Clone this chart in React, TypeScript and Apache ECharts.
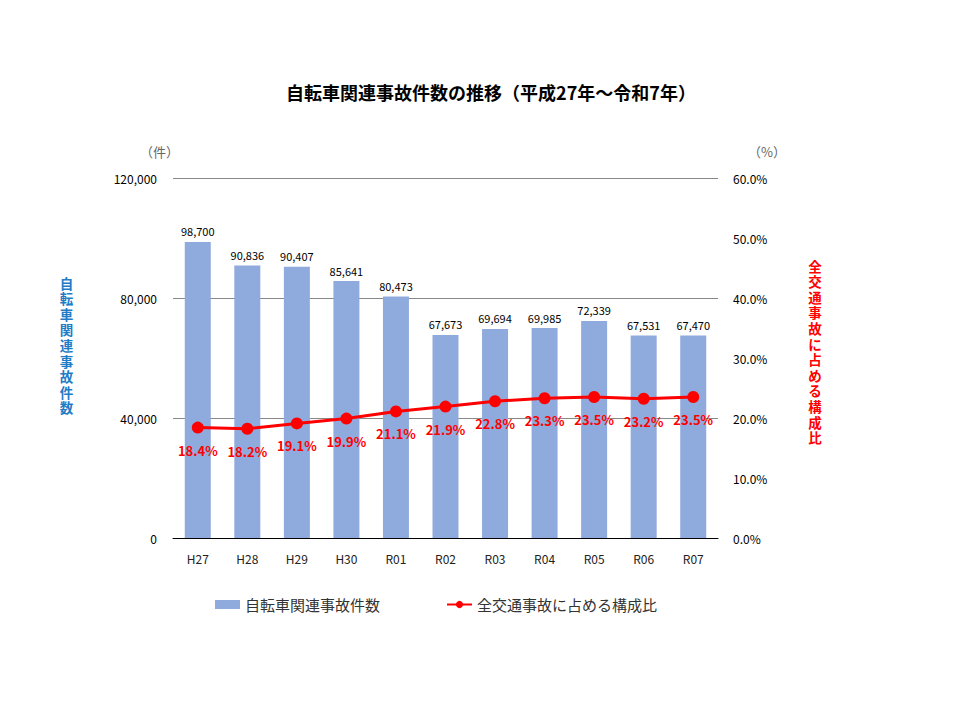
import React, { useEffect, useRef } from "react";
import * as echarts from "echarts";

const categories = ["H27", "H28", "H29", "H30", "R01", "R02", "R03", "R04", "R05", "R06", "R07"];
const accidentCounts = [98700, 90836, 90407, 85641, 80473, 67673, 69694, 69985, 72339, 67531, 67470];
const shareRatios = [18.4, 18.2, 19.1, 19.9, 21.1, 21.9, 22.8, 23.3, 23.5, 23.2, 23.5];
const leftAxisName = "自転車関連事故件数";
const rightAxisName = "全交通事故に占める構成比";

const FONT = "'Noto Sans CJK JP', 'Noto Sans', sans-serif";
const TIGHT_FONT = "'Liberation Sans', 'Noto Sans CJK JP', sans-serif";

function verticalText(text: string, cx: number, top: number, step: number, color: string) {
  return Array.from(text).map((ch, i) => ({
    type: "text",
    x: cx,
    y: top + i * step,
    style: {
      text: ch,
      fill: color,
      fontSize: 13.5,
      lineHeight: 14,
      fontWeight: "bold",
      fontFamily: TIGHT_FONT,
      align: "center",
      verticalAlign: "top",
    },
  }));
}

export default function App() {
  const ref = useRef<HTMLDivElement>(null);
  useEffect(() => {
    if (!ref.current) return;
    const chart = echarts.init(ref.current, null, { renderer: "svg" });
    chart.setOption({
      animation: false,
      backgroundColor: "#ffffff",
      textStyle: { fontFamily: FONT },
      title: {
        text: "自転車関連事故件数の推移（平成27年～令和7年）",
        left: 486,
        top: 78,
        textAlign: "center",
        textStyle: { fontSize: 18, fontWeight: "bold", color: "#000", fontFamily: FONT },
      },
      grid: { left: 173, right: 242, top: 178, bottom: 182 },
      legend: {
        top: 592,
        left: 210,
        itemGap: 66,
        itemWidth: 25,
        itemHeight: 9,
        textStyle: { fontSize: 15, color: "#333", fontFamily: FONT },
        data: [
          { name: "自転車関連事故件数", icon: "rect" },
          { name: "全交通事故に占める構成比" },
        ],
      },
      xAxis: {
        type: "category",
        data: categories,
        axisTick: { show: false },
        axisLine: { lineStyle: { color: "#000", width: 1 } },
        axisLabel: { color: "#222", fontSize: 12, margin: 14 },
      },
      yAxis: [
        {
          type: "value",
          min: 0,
          max: 120000,
          interval: 40000,
          axisLine: { show: false },
          axisTick: { show: false },
          splitLine: { lineStyle: { color: "#888", width: 1 } },
          axisLabel: {
            color: "#000",
            fontSize: 12,
            margin: 16,
            formatter: (v: number) => v.toLocaleString("en-US"),
          },
        },
        {
          type: "value",
          min: 0,
          max: 60,
          interval: 10,
          axisLine: { show: false },
          axisTick: { show: false },
          splitLine: { show: false },
          axisLabel: {
            color: "#000",
            fontSize: 12,
            margin: 15,
            formatter: (v: number) => v.toFixed(1) + "%",
          },
        },
      ],
      series: [
        {
          name: "自転車関連事故件数",
          type: "bar",
          data: accidentCounts,
          barWidth: 26,
          itemStyle: { color: "#8FAADC" },
          label: {
            show: true,
            position: "top",
            distance: 5,
            color: "#000",
            fontSize: 11,
            formatter: (p: any) => Number(p.value).toLocaleString("en-US"),
          },
          z: 2,
        },
        {
          name: "全交通事故に占める構成比",
          type: "line",
          yAxisIndex: 1,
          data: shareRatios,
          symbol: "circle",
          symbolSize: 12,
          lineStyle: { color: "#FF0000", width: 3 },
          itemStyle: { color: "#FF0000" },
          label: {
            show: true,
            position: "bottom",
            distance: 10,
            color: "#FF0000",
            fontSize: 13,
            fontWeight: "bold",
            formatter: (p: any) => Number(p.value).toFixed(1) + "%",
          },
          z: 3,
        },
      ],
      graphic: [
        {
          type: "text",
          left: 140,
          top: 145,
          style: { text: "（件）", fill: "#666", fontSize: 13, fontFamily: FONT },
        },
        {
          type: "text",
          left: 748,
          top: 145,
          style: { text: "（%）", fill: "#666", fontSize: 13, fontFamily: FONT },
        },
        ...verticalText(leftAxisName, 66.5, 277, 15.6, "#1F7CC6"),
        ...verticalText(rightAxisName, 815, 260, 15.6, "#FF0000"),
      ],
    });
    return () => chart.dispose();
  }, []);
  return (
    <div
      ref={ref}
      style={{ position: "absolute", left: 0, top: 0, width: 960, height: 720 }}
    />
  );
}
